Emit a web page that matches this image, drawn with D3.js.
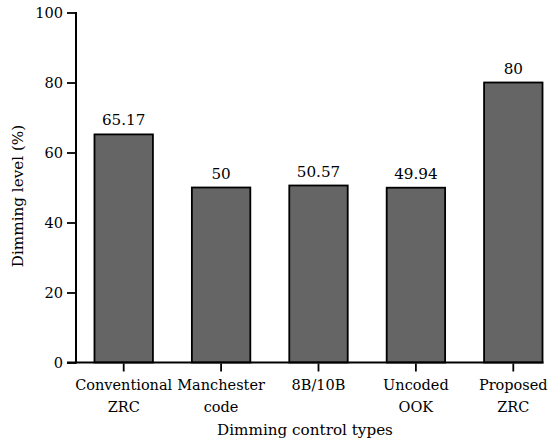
<!DOCTYPE html>
<html><head><meta charset="utf-8">
<script src="https://cdn.jsdelivr.net/npm/d3@7"></script>
<style>body{margin:0;background:#fff}svg{display:block}</style>
</head><body>
<script>
const categories = [["Conventional","ZRC"],["Manchester","code"],["8B/10B"],["Uncoded","OOK"],["Proposed","ZRC"]];
const values = [65.17, 50, 50.57, 49.94, 80];
const valueLabels = ["65.17","50","50.57","49.94","80"];
const yTicks = [0,20,40,60,80,100];
const yTitle = "Dimming level (%)";
const xTitle = "Dimming control types";

const FONT = "'Liberation Serif', 'DejaVu Serif', 'Noto Serif', serif";
const W=550,H=443;
const svg=d3.select("body").append("svg").attr("width",W).attr("height",H)
  .attr("font-family",FONT);
const keys=categories.map((c,i)=>i);
const x=d3.scaleBand().domain(keys).range([75,562]).paddingInner(0.4).paddingOuter(0.2);
const y=d3.scaleLinear().domain([0,100]).range([362.5,12.5]);
const axisX=76;

svg.selectAll("rect.bar").data(values).join("rect").attr("class","bar")
  .attr("x",(d,i)=>x(i)).attr("width",x.bandwidth())
  .attr("y",d=>y(d)).attr("height",d=>y(0)-y(d))
  .attr("fill","#656565").attr("stroke","#000").attr("stroke-width",1.8);

svg.selectAll("text.val").data(values).join("text").attr("class","val")
  .style("font-family","'DejaVu Serif', serif")
  .attr("x",(d,i)=>x(i)+x.bandwidth()/2).attr("y",d=>y(d)-9)
  .attr("text-anchor","middle").attr("font-size",15.2).text((d,i)=>valueLabels[i]);

const yAxis=d3.axisLeft(y).tickValues(yTicks).tickSize(9).tickPadding(4);
const gy=svg.append("g").attr("transform",`translate(${axisX},0)`).call(yAxis)
  .attr("font-size",14.6);
gy.select(".domain").remove();
gy.selectAll(".tick line").attr("stroke","#000").attr("stroke-width",1.8);
gy.selectAll(".tick text").style("font-family","'DejaVu Serif', serif").attr("fill","#000").attr("dy","0.36em");
svg.append("line").attr("x1",axisX).attr("x2",axisX).attr("y1",y(100)-0.5).attr("y2",y(0)+1)
  .attr("stroke","#000").attr("stroke-width",2);

const lastRight=x(keys[keys.length-1])+x.bandwidth()+1;
svg.append("line").attr("x1",67).attr("x2",lastRight).attr("y1",y(0)).attr("y2",y(0))
  .attr("stroke","#000").attr("stroke-width",1.8);

const xAxis=d3.axisBottom(x).tickSize(8).tickFormat("");
const gx=svg.append("g").attr("transform",`translate(0,${y(0)+1})`).call(xAxis);
gx.select(".domain").remove();
gx.selectAll(".tick line").attr("stroke","#000").attr("stroke-width",1.8);

categories.forEach((lines,i)=>{
  const cx=x(i)+x.bandwidth()/2;
  const t=svg.append("text").attr("text-anchor","middle").attr("font-size",14.5)
    .style("font-family","'DejaVu Serif', serif")
    .attr("x",cx).attr("y",390);
  lines.forEach((l,j)=>t.append("tspan").attr("x",cx).attr("dy",j?21.5:0).text(l));
});

svg.append("text").attr("text-anchor","middle").attr("font-size",15.2).style("font-family","'DejaVu Serif', serif")
  .attr("x",305).attr("y",435).text(xTitle);
svg.append("text").attr("text-anchor","middle").attr("font-size",15.2).style("font-family","'DejaVu Serif', serif")
  .attr("transform","translate(23,196) rotate(-90)").text(yTitle);
</script>
</body></html>
